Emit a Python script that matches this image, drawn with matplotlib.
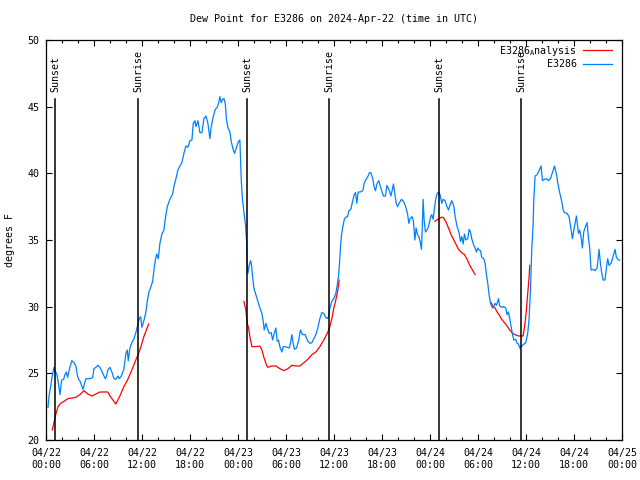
#!/usr/bin/env python3

import numpy as np
import pandas as pd
import matplotlib
matplotlib.use('Agg')
import matplotlib.pyplot as plt

# hours after 2024-04-22 00:00 UTC
obs_hours = [0.21, 0.33, 0.54, 0.71, 0.96, 1.17, 1.33, 1.58, 1.71, 1.92,
             2.17, 2.33, 2.5, 2.67, 2.92, 3.2, 3.46, 3.7, 3.9, 4.04,
             4.2, 4.46, 4.58, 4.8, 4.96, 5.2, 5.54, 5.8, 5.96, 6.2,
             6.46, 6.7, 6.88, 7.13, 7.38, 7.54, 7.7, 7.96, 8.2, 8.46,
             8.7, 8.96, 9.13, 9.38, 9.54, 9.7, 9.96, 10.13, 10.25, 10.46,
             10.7, 10.96, 11.2, 11.38, 11.63, 11.8, 11.96, 12.2, 12.46, 12.63,
             12.84, 13.09, 13.3, 13.46, 13.67, 13.8, 14.0, 14.21, 14.46, 14.71,
             14.92, 15.13, 15.46, 15.8, 15.96, 16.21, 16.46, 16.71, 16.96, 17.21,
             17.46, 17.71, 17.96, 18.21, 18.38, 18.59, 18.71, 18.96, 19.21, 19.46,
             19.71, 19.96, 20.21, 20.46, 20.63, 20.88, 21.13, 21.38, 21.54, 21.71,
             21.88, 22.04, 22.21, 22.38, 22.54, 22.71, 22.96, 23.13, 23.38, 23.54,
             23.79, 24.04, 24.21, 24.38, 24.54, 24.75, 24.92, 25.05, 25.13, 25.21,
             25.38, 25.55, 25.67, 25.8, 25.96, 26.21, 26.46, 26.71, 26.96, 27.13,
             27.25, 27.46, 27.63, 27.88, 28.13, 28.3, 28.46, 28.71, 28.88, 29.04,
             29.21, 29.46, 29.63, 29.88, 30.13, 30.38, 30.54, 30.71, 30.88, 31.04,
             31.29, 31.54, 31.79, 32.04, 32.38, 32.71, 32.96, 33.21, 33.46, 33.71,
             33.96, 34.21, 34.46, 34.71, 34.88, 35.13, 35.29, 35.46, 35.71, 35.96,
             36.21, 36.38, 36.54, 36.67, 36.8, 36.92, 37.09, 37.25, 37.42, 37.67,
             37.84, 38.09, 38.25, 38.5, 38.67, 38.84, 39.0, 39.25, 39.59, 39.75,
             40.0, 40.25, 40.42, 40.59, 40.84, 41.0, 41.17, 41.34, 41.59, 41.75,
             42.0, 42.17, 42.42, 42.59, 42.75, 42.92, 43.09, 43.25, 43.42, 43.59,
             43.75, 43.92, 44.17, 44.42, 44.67, 44.92, 45.17, 45.34, 45.5, 45.75,
             45.92, 46.09, 46.25, 46.42, 46.59, 46.75, 46.92, 47.0, 47.13, 47.25,
             47.42, 47.67, 47.84, 48.09, 48.21, 48.38, 48.55, 48.71, 48.88, 49.13,
             49.3, 49.46, 49.63, 49.88, 50.05, 50.3, 50.46, 50.71, 50.96, 51.13,
             51.38, 51.63, 51.8, 51.96, 52.13, 52.3, 52.46, 52.71, 52.88, 53.05,
             53.21, 53.46, 53.63, 53.8, 53.96, 54.13, 54.3, 54.46, 54.71, 54.88,
             55.05, 55.21, 55.38, 55.55, 55.71, 55.88, 56.13, 56.3, 56.55, 56.71,
             56.96, 57.21, 57.46, 57.63, 57.8, 57.96, 58.13, 58.3, 58.46, 58.71,
             58.88, 59.05, 59.21, 59.55, 59.96, 60.21, 60.38, 60.55, 60.71, 60.88,
             60.96, 61.13, 61.38, 61.63, 61.88, 62.05, 62.3, 62.55, 62.8, 63.05,
             63.3, 63.55, 63.8, 63.96, 64.21, 64.46, 64.63, 64.8, 65.13, 65.38,
             65.63, 65.8, 66.05, 66.3, 66.55, 66.71, 66.88, 67.05, 67.21, 67.46,
             67.63, 67.8, 67.96, 68.13, 68.38, 68.63, 68.88, 69.05, 69.13, 69.3,
             69.46, 69.63, 69.88, 70.05, 70.21, 70.38, 70.63, 70.88, 71.13, 71.3,
             71.55, 71.71]
obs_dewpt = [22.45, 23.25, 24.0, 24.7, 25.45, 25.1, 24.9, 24.0, 23.4, 24.5,
             24.55, 24.9, 25.1, 24.7, 25.4, 25.95, 25.8, 25.55, 24.8, 24.55,
             24.45, 24.0, 23.8, 24.25, 24.6, 24.6, 24.6, 24.7, 25.35, 25.45,
             25.6, 25.45, 25.25, 24.9, 24.6, 24.8, 25.25, 25.45, 25.1, 24.6,
             24.55, 24.8, 24.6, 24.8, 25.05, 25.3, 26.5, 26.75, 25.95, 26.9,
             27.3, 27.6, 28.05, 28.5, 29.1, 29.25, 28.45, 28.95, 29.6, 30.4,
             31.1, 31.5, 31.9, 32.75, 33.6, 33.95, 33.6, 34.75, 35.45, 35.75,
             36.75, 37.5, 38.05, 38.45, 39.0, 39.6, 40.25, 40.55, 40.8, 41.5,
             42.05, 41.95, 42.45, 42.5, 43.75, 43.95, 43.5, 43.95, 43.05, 43.05,
             44.1, 44.3, 43.75, 42.6, 43.5, 44.25, 44.8, 44.95, 45.25, 45.75,
             45.3, 45.55, 45.6, 45.25, 44.0, 43.45, 43.1, 42.4, 41.75, 41.5,
             41.95, 42.4, 42.5, 39.5, 38.0, 36.9, 36.1, 34.9, 33.25, 32.5,
             33.1, 33.45, 33.1, 32.25, 31.4, 30.9, 30.4, 29.9, 29.5, 28.9,
             28.25, 28.75, 28.4, 28.0, 28.05, 27.5, 27.9, 28.4, 27.4, 27.5,
             27.0, 26.6, 27.0, 27.0, 26.95, 26.9, 27.25, 27.9, 27.25, 26.8,
             26.9, 27.4, 28.25, 27.9, 27.9, 27.4, 27.25, 27.3, 27.6, 27.9,
             28.4, 29.1, 29.55, 29.5, 29.25, 29.1, 29.25, 29.9, 30.4, 30.6,
             31.0, 31.6, 32.25, 33.25, 34.5, 35.4, 36.0, 36.5, 36.7, 36.75,
             37.2, 37.3, 37.75, 38.4, 38.55, 37.75, 38.6, 38.6, 38.7, 39.25,
             39.55, 39.8, 40.05, 40.05, 39.6, 38.95, 38.7, 39.2, 39.45, 39.05,
             38.6, 38.3, 38.3, 39.1, 38.9, 38.7, 38.3, 38.7, 39.2, 38.5,
             37.8, 37.5, 37.8, 38.05, 37.9, 37.55, 37.0, 36.25, 36.6, 36.75,
             36.4, 35.0, 35.9, 35.4, 35.25, 34.9, 34.3, 35.6, 38.05, 36.5,
             35.6, 35.8, 36.1, 36.8, 36.9, 36.55, 37.4, 38.1, 38.5, 38.6,
             38.25, 37.75, 38.05, 37.95, 37.6, 37.25, 37.55, 37.95, 37.55, 36.75,
             36.0, 35.55, 34.9, 35.25, 34.7, 35.45, 35.0, 35.1, 35.8, 35.6,
             35.1, 34.6, 34.4, 34.1, 34.4, 34.25, 34.2, 33.7, 33.6, 33.25,
             32.4, 31.75, 30.9, 30.25, 30.0, 29.9, 30.25, 30.1, 30.6, 30.05,
             29.95, 30.0, 29.9, 29.4, 29.6, 29.1, 28.5, 27.95, 27.5, 27.55,
             27.25, 27.2, 26.9, 27.1, 27.3, 28.0, 29.1, 31.25, 34.25, 36.1,
             37.9, 39.8, 39.9, 40.2, 40.55, 39.45, 39.55, 39.6, 39.45, 39.6,
             40.05, 40.55, 39.95, 39.3, 38.55, 37.9, 37.3, 37.05, 37.0, 36.75,
             35.8, 35.1, 36.0, 36.8, 35.5, 35.75, 35.2, 34.4, 35.6, 36.05,
             36.3, 35.2, 34.4, 32.75, 32.8, 32.7, 32.9, 33.8, 34.3, 33.25,
             32.55, 32.0, 32.0, 32.9, 33.6, 33.1, 33.25, 33.75, 34.3, 33.7,
             33.5, 33.5]

# analysis, gaps marked with nan
ana_hours = [0.75, 0.96, 1.2, 1.46, 1.8, 2.2, 2.7, 3.7, 4.2, 4.7,
             5.2, 5.7, 6.2, 6.7, 7.7, 7.96, 8.7, 9.2, 9.7, 10.2,
             10.7, 11.2, 11.7, 12.2, 12.8, np.nan,
             24.71, 24.96, 25.13, 25.3, 25.46, 25.71, 26.21, 26.71, 26.96, 27.21,
             27.55, 27.71, 28.21, 28.71, 29.21, 29.71, 30.21, 30.71, 31.21, 31.71,
             32.21, 32.71, 33.21, 33.71, 34.21, 34.71, 35.21, 35.46, 35.71, 35.96,
             36.21, 36.46, 36.63, np.nan,
             48.59, 48.96, 49.38, 49.63, 49.96, 50.3, 50.63, 50.96, 51.3, 51.55,
             51.96, 52.3, 52.63, 52.96, 53.3, 53.63, np.nan,
             55.63, 55.88, 56.13, 56.38, 56.63, 56.96, 57.3, 57.63, 57.96, 58.3,
             58.63, 59.05, 59.63, 59.71, 59.88, 60.05, 60.21, 60.38, 60.46]
ana_dewpt = [20.75, 21.3, 21.95, 22.5, 22.75, 22.9, 23.1, 23.2, 23.4, 23.7,
             23.45, 23.3, 23.45, 23.6, 23.6, 23.3, 22.7, 23.3, 24.0, 24.55,
             25.25, 26.0, 26.75, 27.75, 28.7, np.nan,
             30.4, 29.75, 28.75, 28.4, 27.75, 27.0, 27.0, 27.05, 26.75, 26.2,
             25.6, 25.45, 25.55, 25.55, 25.35, 25.2, 25.35, 25.6, 25.55, 25.55,
             25.8, 26.05, 26.4, 26.6, 27.0, 27.5, 28.1, 28.5, 29.1, 29.9,
             30.5, 31.25, 32.0, np.nan,
             36.4, 36.55, 36.7, 36.7, 36.4, 35.9, 35.4, 35.0, 34.6, 34.3,
             34.05, 33.9, 33.55, 33.1, 32.75, 32.4, np.nan,
             30.3, 30.0, 29.9, 29.6, 29.4, 29.05, 28.8, 28.55, 28.25, 28.0,
             27.9, 27.8, 27.8, 28.1, 28.8, 29.8, 31.0, 32.2, 33.1]

sunset_hours = [1.12, 25.09, 49.13]
sunrise_hours = [11.5, 35.38, 59.36]

start = pd.Timestamp('2024-04-22 00:00')
tick_hours = list(range(0, 73, 6))
tick_labels = [(start + pd.Timedelta(hours=h)).strftime('%m/%d\n%H:%M')
               for h in tick_hours]

fs = 7.2
plt.rcParams['font.family'] = ['DejaVu Sans Mono']
plt.rcParams['font.size'] = fs
plt.rcParams['mathtext.fontset'] = 'custom'
plt.rcParams['mathtext.rm'] = 'DejaVu Sans Mono'

fig = plt.figure(figsize=(6.4, 4.8), dpi=100)
ax = fig.add_axes([46.3 / 640, 40 / 480, 575.7 / 640, 400 / 480])

ax.plot(ana_hours, ana_dewpt, color='#ff0000', lw=0.9,
        label=r'E3286$_{\mathrm{A}}$nalysis')
ax.plot(obs_hours, obs_dewpt, color='#0080ff', lw=0.9, label='E3286')

line_top = 45.58
for h in sunset_hours:
    ax.axvline(h, ymax=(line_top - 20) / 30, color='black', lw=1.1)
    ax.text(h, 46.1, 'Sunset', rotation=90, ha='center', va='bottom',
            fontsize=fs)
for h in sunrise_hours:
    ax.axvline(h, ymax=(line_top - 20) / 30, color='black', lw=1.1)
    ax.text(h, 46.1, 'Sunrise', rotation=90, ha='center', va='bottom',
            fontsize=fs)

ax.set_xlim(0, 72)
ax.set_ylim(20, 50)
ax.set_xticks(tick_hours)
ax.set_xticklabels(tick_labels)
ax.set_xticks(range(0, 73, 2), minor=True)
ax.set_yticks(range(20, 51, 5))
ax.tick_params(which='both', direction='in', top=True, right=True,
               width=0.8, labelsize=fs)
ax.tick_params(which='major', length=4)
ax.tick_params(which='minor', length=2)
ax.tick_params(axis='x', pad=6)
ax.tick_params(axis='y', pad=5)
for s in ax.spines.values():
    s.set_linewidth(0.9)

ax.set_title('Dew Point for E3286 on 2024-Apr-22 (time in UTC)',
             fontsize=fs, pad=13)
ax.set_ylabel('degrees F', fontsize=fs)
ax.yaxis.set_label_coords(-0.055, 0.5)

ax.legend(loc='upper right', frameon=False, markerfirst=False,
          fontsize=fs, handlelength=2.9, handletextpad=0.6,
          labelspacing=0.15, borderaxespad=0, borderpad=0,
          bbox_to_anchor=(1 - 10 / 575.7, 1 - 4 / 400))

plt.savefig('out.png', dpi=100)
